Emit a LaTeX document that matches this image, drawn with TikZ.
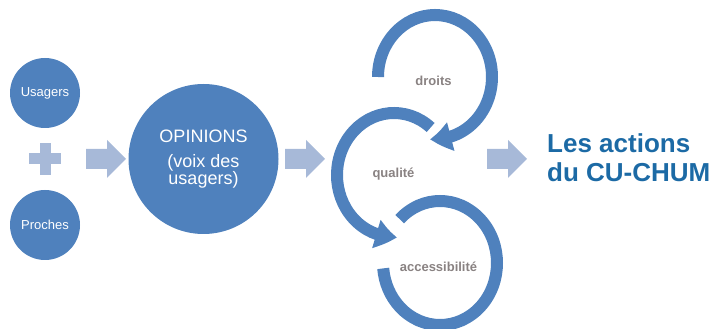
\documentclass[tikz,border=0pt]{standalone}
\usepackage{fontspec}
\setmainfont{Liberation Sans}
\usepackage{tikz}
\usetikzlibrary{arrows.meta}
\usetikzlibrary{bending}
\usepackage{xcolor}
\definecolor{bleu}{RGB}{79,129,189}
\definecolor{bleupale}{RGB}{167,185,216}
\definecolor{gristexte}{RGB}{137,130,130}
\definecolor{bleutitre}{RGB}{28,106,165}
\newcommand\flechebloc[1]{
  \fill[bleupale, shift={(#1)}] (-20,-10)--(1,-10)--(1,-19)--(20,0)--(1,19)--(1,10)--(-20,10)--cycle;
}

\begin{document}
\begin{tikzpicture}[x=1pt, y=1pt,
    rond/.style={circle, fill=bleu, text=white, inner sep=0pt},
    boucle/.style={text=gristexte, font=\bfseries\fontsize{13}{15}\selectfont, inner sep=0pt},
    anneau/.style={draw=bleu, line width=12pt},
    pointe/.style={-{Triangle[width=28pt, length=21pt, bend]}}]
	\useasboundingbox (0,0) rectangle (716,329);
	% usagers + proches
	\node[rond, minimum size=70pt, font=\fontsize{13}{15}\selectfont] (usagers) at (45,236) {Usagers};
	\node[rond, minimum size=70pt, font=\fontsize{13}{15}\selectfont] (proches) at (45,104) {Proches};
	\fill[bleupale] (29,164.5) rectangle (61,175.5);
	\fill[bleupale] (39.5,154) rectangle (50.5,186);
	\flechebloc{106,170}
	% opinions
	\node[rond, minimum size=150pt, align=center, font=\fontsize{18}{17}\selectfont] (opinions) at (203.5,170) {OPINIONS\\[8pt](voix des\\usagers)};
	\flechebloc{305,170}
	% boucles
	\coordinate (cdroits) at (435,252);
	\coordinate (cqualite) at (394,154);
	\coordinate (cacces) at (440,66);
	\node[boucle] (droits) at (433.5,248) {droits};
	\node[boucle] (qualite) at (393.5,155) {qualité};
	\node[boucle] (acces) at (438.5,62) {accessibilité};
	\draw[anneau, pointe] (cdroits) ++(180:57 and 62) arc[start angle=180, end angle=-95, x radius=57, y radius=62];
	\draw[anneau, pointe] (cqualite) ++(50:57 and 62) arc[start angle=50, end angle=273, x radius=57, y radius=62];
	\draw[anneau] (cacces) ++(135:57 and 62) arc[start angle=135, end angle=-175, x radius=57, y radius=62];
	\flechebloc{507,170}
	% actions
	\node[anchor=west, align=left, inner sep=0pt, text=bleutitre, font=\bfseries\fontsize{26}{29}\selectfont] (actions) at (547,171.5) {Les actions\\du CU-CHUM};
\end{tikzpicture}
\end{document}
